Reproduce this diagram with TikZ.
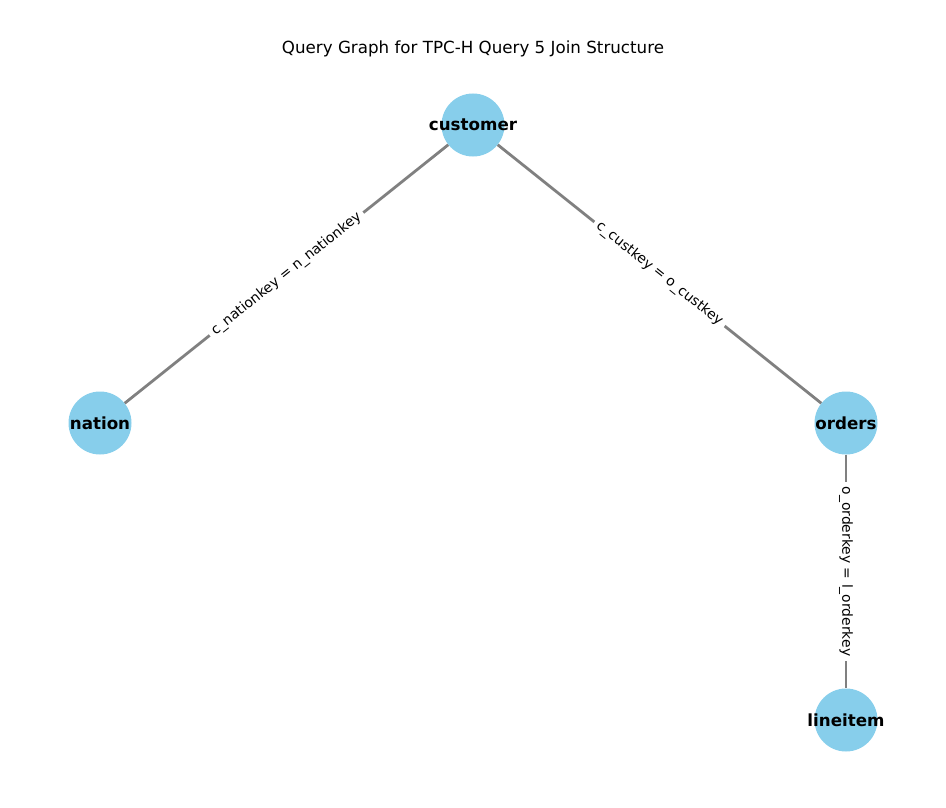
\documentclass[tikz,border=0pt]{standalone}
\usepackage{fontspec}
\setmainfont{DejaVu Sans}
\definecolor{skyblue}{RGB}{135,206,235}
\tikzset{
  tablenode/.style={circle, fill=skyblue, minimum size=63pt, inner sep=0pt, font=\fontsize{16.7}{20}\selectfont\bfseries},
  joinedge/.style={draw={rgb,255:red,128;green,128;blue,128}, line width=2.8pt},
  joinlabel/.style={midway, fill=white, inner xsep=4.5pt, inner ysep=2pt, font=\fontsize{13.9}{16}\selectfont},
}
\newcommand{\tabname}[1]{\makebox[0pt]{#1}}
\begin{document}
\begin{tikzpicture}[x=1pt,y=1pt,yscale=-1,xscale=1]
\useasboundingbox (0,0) rectangle (946,808);

% Title
\node (title) at (473,49) {\fontsize{16.7}{20}\selectfont Query Graph for TPC-H Query 5 Join Structure};

% Tables
\node [tablenode] (customer) at (473,125) {\tabname{customer}};
\node [tablenode] (nation) at (100,423) {\tabname{nation}};
\node [tablenode] (orders) at (846,423) {\tabname{orders}};
\node [tablenode] (lineitem) at (846,720) {\tabname{lineitem}};

% Joins
\draw [joinedge] (customer) -- node [joinlabel, rotate=38.6] {c\_nationkey = n\_nationkey} (nation);
\draw [joinedge] (customer) -- node [joinlabel, rotate=-38.6] {c\_custkey = o\_custkey} (orders);
\draw [joinedge] (orders) -- node [joinlabel, rotate=-90] {o\_orderkey = l\_orderkey} (lineitem);

\end{tikzpicture}
\end{document}
